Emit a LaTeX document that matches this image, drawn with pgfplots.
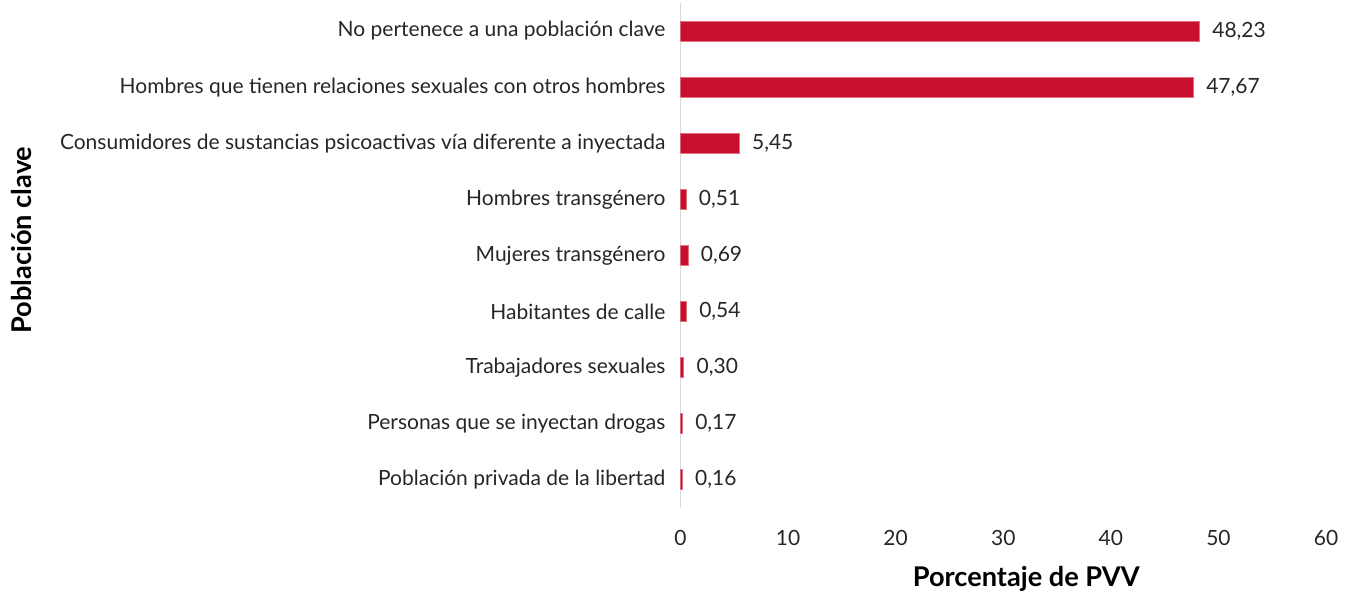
\documentclass[border=0pt]{standalone}
\usepackage{fontspec}
\setmainfont{Lato}
\usepackage{pgfplots}
\pgfplotsset{compat=1.18}
\definecolor{barred}{HTML}{C8102E}
\definecolor{axgray}{HTML}{D9D9D9}
\begin{document}
\begin{tikzpicture}
\begin{axis}[
    width=323pt, height=252.5pt,
    scale only axis,
    xbar,
    bar width=10pt,
    xmin=0, xmax=60,
    ymin=-0.5, ymax=8.5,
    xtick={0,10,...,60},
    ytick={0,...,8},
    yticklabels={
        Población privada de la libertad,
        Personas que se inyectan drogas,
        Trabajadores sexuales,
        Habitantes de calle,
        Mujeres transgénero,
        Hombres transgénero,
        Consumidores de sustancias psicoactivas vía diferente a inyectada,
        Hombres que tienen relaciones sexuales con otros hombres,
        No pertenece a una población clave},
    separate axis lines,
    axis x line*=bottom,
    axis y line*=left,
    x axis line style={draw=none},
    y axis line style={draw=axgray, line width=0.8pt, -},
    major tick length=0pt,
    tick label style={font=\fontsize{10.5}{12}\selectfont, text=black!85},
    yticklabel style={xshift=-4pt},
    xticklabel style={yshift=-8pt},
    /pgf/number format/assume math mode=true,
    xlabel={\bfseries Porcentaje de PVV},
    xlabel style={font=\fontsize{13.6}{15}\selectfont, at={(axis description cs:0.5,0)}, anchor=north, yshift=-26pt, xshift=11.5pt},
    ylabel={\bfseries Población clave},
    ylabel style={font=\fontsize{13.6}{15}\selectfont, at={(axis description cs:-1.0201,0.53)}, anchor=center},
    nodes near coords,
    nodes near coords style={font=\fontsize{10.5}{12}\selectfont, text=black!85, anchor=west, xshift=3pt,
        /pgf/number format/.cd, fixed, fixed zerofill, precision=2, use comma, assume math mode=true},
]
\addplot[draw=barred!60, line width=0.3pt, fill=barred] coordinates {
    (0.16,0) (0.17,1) (0.30,2) (0.54,3) (0.69,4) (0.51,5) (5.45,6) (47.67,7) (48.23,8)
};
\end{axis}
\pgfresetboundingbox
\path[use as bounding box] (-340.5pt,-43pt) rectangle (336.5pt,254pt);
\end{tikzpicture}
\end{document}
